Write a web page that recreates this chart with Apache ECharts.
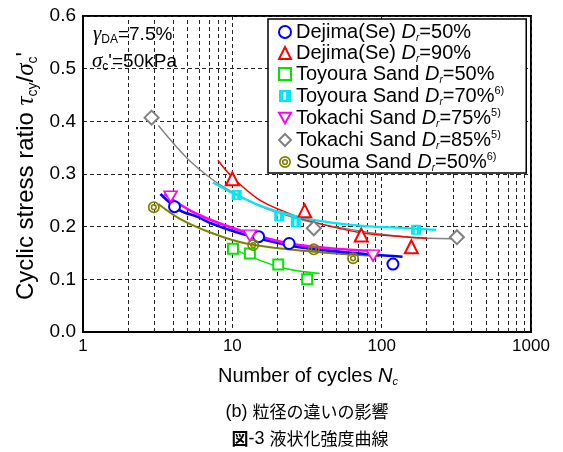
<!DOCTYPE html>
<html>
<head>
<meta charset="utf-8">
<script src="https://cdn.jsdelivr.net/npm/echarts@6/dist/echarts.min.js"></script>
<style>
  html, body { margin: 0; padding: 0; background: #fff; }
  #chart { width: 563px; height: 452px; }
</style>
</head>
<body>
<div id="chart"></div>
<script>
// Liquefaction strength curves: cyclic stress ratio vs. number of cycles (log scale)

const xTickLabels = ['1', '10', '100', '1000'];
const yTickLabels = ['0.0', '0.1', '0.2', '0.3', '0.4', '0.5', '0.6'];
const minorGridN = [2, 3, 4, 5, 6, 7, 8, 9, 20, 30, 40, 50, 60, 70, 80, 90, 200, 300, 400, 500, 600, 700, 800, 900];

const sandNames = ['Dejima(Se)', 'Dejima(Se)', 'Toyoura Sand', 'Toyoura Sand', 'Tokachi Sand', 'Tokachi Sand', 'Souma Sand'];
const relativeDensity = ['50%', '90%', '50%', '70%', '75%', '85%', '50%'];
const referenceNo = ['', '', '', '6)', '5)', '5)', '6)'];

// test results [N, tau/sigma]
const dejima50 = [[4.1, 0.238], [15, 0.181], [24, 0.168], [119, 0.129]];
const dejima90 = [[10, 0.291], [30.5, 0.230], [73, 0.184], [158, 0.162]];
const toyoura50 = [[10.1, 0.158], [13.1, 0.149], [20.3, 0.128], [31.7, 0.100]];
const toyoura70 = [[10.7, 0.260], [20.6, 0.220], [26.6, 0.208], [170, 0.194]];
const tokachi75 = [[3.86, 0.257], [13.1, 0.183], [87.5, 0.145]];
const tokachi85 = [[2.88, 0.407], [35.1, 0.197], [319, 0.180]];
const souma50 = [[2.98, 0.237], [13.8, 0.165], [35.1, 0.157], [64.3, 0.140]];

// fitted strength curves [N, tau/sigma]
const dejima50Curve = [[3.3, 0.262], [4.45, 0.231], [5.8, 0.219], [7.4, 0.205], [12.4, 0.184], [25.5, 0.163], [55, 0.152], [138, 0.143]];
const dejima90Curve = [[8.0, 0.326], [10, 0.294], [15, 0.252], [23, 0.227], [33, 0.211], [71, 0.189], [154, 0.180], [200, 0.178]];
const toyoura50Curve = [[10.7, 0.155], [15.3, 0.136], [23, 0.120], [38.5, 0.111]];
const toyoura70Curve = [[7.4, 0.284], [10.7, 0.260], [15, 0.241], [20, 0.229], [33, 0.214], [71, 0.202], [154, 0.197], [232, 0.194]];
const tokachi75Curve = [[3.5, 0.262], [5.8, 0.224], [12.4, 0.189], [25.5, 0.167], [55, 0.157], [97, 0.153]];
const tokachi85Curve = [[3.2, 0.392], [4.9, 0.332], [7.4, 0.289], [10.1, 0.265], [15, 0.240], [20, 0.227], [33, 0.209], [97, 0.186], [154, 0.180], [292, 0.177]];
const souma50Curve = [[3.2, 0.243], [4.45, 0.215], [7.44, 0.187], [12.4, 0.168], [25.5, 0.156], [55, 0.148], [97, 0.144]];

const SANS = '"Liberation Sans", Arial, sans-serif';
const SERIF = '"Liberation Serif", "Times New Roman", serif';
const CJK = '"Noto Sans CJK JP", sans-serif';

const seriesNames = sandNames.map((s, i) => s + ' Dr=' + relativeDensity[i]);
const markerSets = [dejima50, dejima90, toyoura50, toyoura70, tokachi75, tokachi85, souma50];
const curveSets = [dejima50Curve, dejima90Curve, toyoura50Curve, toyoura70Curve, tokachi75Curve, tokachi85Curve, souma50Curve];

// custom marker outlines
const SQUARE_STRIPE = 'path://M0,0H10V10H0Z M3.6,1.6V8.4H5.6V1.6Z';
const DOUBLE_RING = 'path://M0,10A10,10,0,1,1,20,10A10,10,0,1,1,0,10Z M2.8,10A7.2,7.2,0,1,0,17.2,10A7.2,7.2,0,1,0,2.8,10Z M4.8,10A5.2,5.2,0,1,1,15.2,10A5.2,5.2,0,1,1,4.8,10Z M7.4,10A2.6,2.6,0,1,0,12.6,10A2.6,2.6,0,1,0,7.4,10Z';
const DOWN_TRIANGLE = 'path://M0,0H12L6,10.4Z';

const looks = [
  { color: '#0000ff', symbol: 'emptyCircle', size: 11, line: 2.6, fill: null },
  { color: '#ff0000', symbol: 'emptyTriangle', size: 13, line: 1.5, fill: null },
  { color: '#00e600', symbol: 'emptyRect', size: 10, line: 1.5, fill: null },
  { color: '#00e8f0', symbol: SQUARE_STRIPE, size: 10, line: 2.2, fill: 'solid' },
  { color: '#ff00ff', symbol: DOWN_TRIANGLE, size: [13, 11], line: 2.6, fill: 'hollow' },
  { color: '#808080', symbol: 'emptyDiamond', size: 14, line: 1.4, fill: null },
  { color: '#808000', symbol: DOUBLE_RING, size: 12, line: 2, fill: 'solid' }
];

// curve stacking: gray under cyan, olive under blue, magenta on top
const curveOrder = [5, 1, 3, 2, 6, 0, 4];

const series = [];
curveOrder.forEach((k, j) => {
  const s = {
    type: 'line',
    name: 'curve' + k,
    data: curveSets[k],
    smooth: 0.35,
    showSymbol: false,
    silent: true,
    z: 3 + j * 0.01,
    lineStyle: { color: looks[k].color, width: looks[k].line }
  };
  if (j === 0) {
    s.markLine = {
      silent: true,
      symbol: ['none', 'none'],
      label: { show: false },
      z: 1,
      lineStyle: { color: '#222', width: 1, type: [4, 3] },
      data: minorGridN.map(v => ({ xAxis: v }))
    };
  }
  series.push(s);
});
markerSets.forEach((pts, k) => {
  const L = looks[k];
  let itemStyle;
  if (L.fill === 'solid') itemStyle = { color: L.color, borderWidth: 0, opacity: 1 };
  else if (L.fill === 'hollow') itemStyle = { color: '#fff', borderColor: L.color, borderWidth: 1.6, opacity: 1 };
  else itemStyle = { color: L.color, borderColor: L.color, borderWidth: 1.6, opacity: 1 };
  series.push({
    type: 'scatter',
    name: seriesNames[k],
    data: pts,
    symbol: L.symbol,
    symbolSize: L.size,
    z: 6,
    itemStyle: itemStyle
  });
});

const chart = echarts.init(document.getElementById('chart'), null, { renderer: 'canvas' });

chart.setOption({
  animation: false,
  backgroundColor: '#fff',
  grid: {
    left: 83, right: 32, top: 16, bottom: 120,
    show: true, borderColor: '#000', borderWidth: 2, backgroundColor: '#fff'
  },
  xAxis: {
    type: 'log', logBase: 10, min: 1, max: 1000,
    axisLine: { show: true, onZero: false, lineStyle: { color: '#000', width: 2 } },
    axisTick: { show: false },
    axisLabel: {
      color: '#000', fontFamily: SANS, fontSize: 17, margin: 6,
      formatter: v => xTickLabels[Math.round(Math.log10(v))]
    },
    splitLine: { show: true, lineStyle: { color: '#222', width: 1, type: [4, 3] } }
  },
  yAxis: {
    type: 'value', min: 0, max: 0.6, interval: 0.1,
    axisLine: { show: true, lineStyle: { color: '#000', width: 2 } },
    axisTick: { show: false },
    axisLabel: {
      color: '#000', fontFamily: SANS, fontSize: 19, margin: 7,
      formatter: v => yTickLabels[Math.round(v * 10)]
    },
    splitLine: { show: true, lineStyle: { color: '#222', width: 1, type: [4, 3] } }
  },
  legend: {
    data: seriesNames,
    orient: 'vertical',
    left: 268, top: 19,
    padding: [3, 22, 0, 10],
    itemGap: 0,
    itemWidth: 12, itemHeight: 12,
    backgroundColor: '#fff',
    borderColor: '#000',
    borderWidth: 1.5,
    borderRadius: 0,
    selectedMode: false,
    formatter: name => {
      const k = seriesNames.indexOf(name);
      let txt = '{t|' + sandNames[k] + ' }{d|D}{r|r}{t|=' + relativeDensity[k] + '}';
      if (referenceNo[k]) txt += '{sup|' + referenceNo[k] + '}';
      return txt;
    },
    textStyle: {
      color: '#000',
      rich: {
        t: { fontFamily: SANS, fontSize: 20, lineHeight: 22, color: '#000' },
        d: { fontFamily: SANS, fontSize: 20, fontStyle: 'italic', lineHeight: 22, color: '#000' },
        r: { fontFamily: SANS, fontSize: 10, fontStyle: 'italic', lineHeight: 10, verticalAlign: 'bottom', color: '#000' },
        sup: { fontFamily: SANS, fontSize: 11, lineHeight: 11, verticalAlign: 'top', color: '#000' }
      }
    }
  },
  graphic: [
    {
      type: 'text', left: 93, top: 24, z: 10,
      style: {
        text: '{g|γ}{s|DA}{n|=7.5%}',
        rich: {
          g: { fontFamily: SERIF, fontStyle: 'italic', fontSize: 21, lineHeight: 22, fill: '#000' },
          s: { fontFamily: SANS, fontSize: 12, lineHeight: 12, verticalAlign: 'bottom', fill: '#000' },
          n: { fontFamily: SANS, fontSize: 19, lineHeight: 22, fill: '#000' }
        }
      }
    },
    {
      type: 'text', left: 92, top: 51, z: 10,
      style: {
        text: '{g|σ}{s|c}{n|\'=50kPa}',
        rich: {
          g: { fontFamily: SERIF, fontStyle: 'italic', fontSize: 21, lineHeight: 22, fill: '#000' },
          s: { fontFamily: SANS, fontSize: 12, lineHeight: 12, verticalAlign: 'bottom', fill: '#000' },
          n: { fontFamily: SANS, fontSize: 19, lineHeight: 22, fill: '#000' }
        }
      }
    },
    {
      type: 'text', x: 26, y: 176, rotation: Math.PI / 2, z: 10,
      style: {
        text: '{n|Cyclic stress ratio }{g|τ}{s|cy}{n|/}{g|σ}{s|c}{n|\'}',
        align: 'center', verticalAlign: 'middle',
        rich: {
          n: { fontFamily: SANS, fontSize: 24, lineHeight: 28, fill: '#000' },
          g: { fontFamily: SERIF, fontStyle: 'italic', fontSize: 25, lineHeight: 28, fill: '#000' },
          s: { fontFamily: SANS, fontSize: 14, lineHeight: 14, verticalAlign: 'bottom', fill: '#000' }
        }
      }
    },
    {
      type: 'text', x: 308, y: 376, z: 10,
      style: {
        text: '{n|Number of cycles }{i|N}{s|c}',
        align: 'center', verticalAlign: 'middle',
        rich: {
          n: { fontFamily: SANS, fontSize: 20, lineHeight: 22, fill: '#000' },
          i: { fontFamily: SANS, fontStyle: 'italic', fontSize: 20, lineHeight: 22, fill: '#000' },
          s: { fontFamily: SANS, fontStyle: 'italic', fontSize: 11, lineHeight: 11, verticalAlign: 'bottom', fill: '#000' }
        }
      }
    },
    {
      type: 'text', x: 307, y: 412, z: 10,
      style: {
        text: '{n|(b) }{j|粒径の違いの影響}',
        align: 'center', verticalAlign: 'middle',
        rich: {
          n: { fontFamily: SANS, fontSize: 18, lineHeight: 22, fill: '#000' },
          j: { fontFamily: CJK, fontSize: 17, lineHeight: 22, fill: '#000' }
        }
      }
    },
    {
      type: 'text', x: 310, y: 439, z: 10,
      style: {
        text: '{b|図}{n|-3 }{j|液状化強度曲線}',
        align: 'center', verticalAlign: 'middle',
        rich: {
          b: { fontFamily: CJK, fontWeight: 'bold', fontSize: 17, lineHeight: 22, fill: '#000' },
          n: { fontFamily: SANS, fontSize: 18, lineHeight: 22, fill: '#000' },
          j: { fontFamily: CJK, fontSize: 17, lineHeight: 22, fill: '#000' }
        }
      }
    }
  ],
  series: series
});
</script>
</body>
</html>
